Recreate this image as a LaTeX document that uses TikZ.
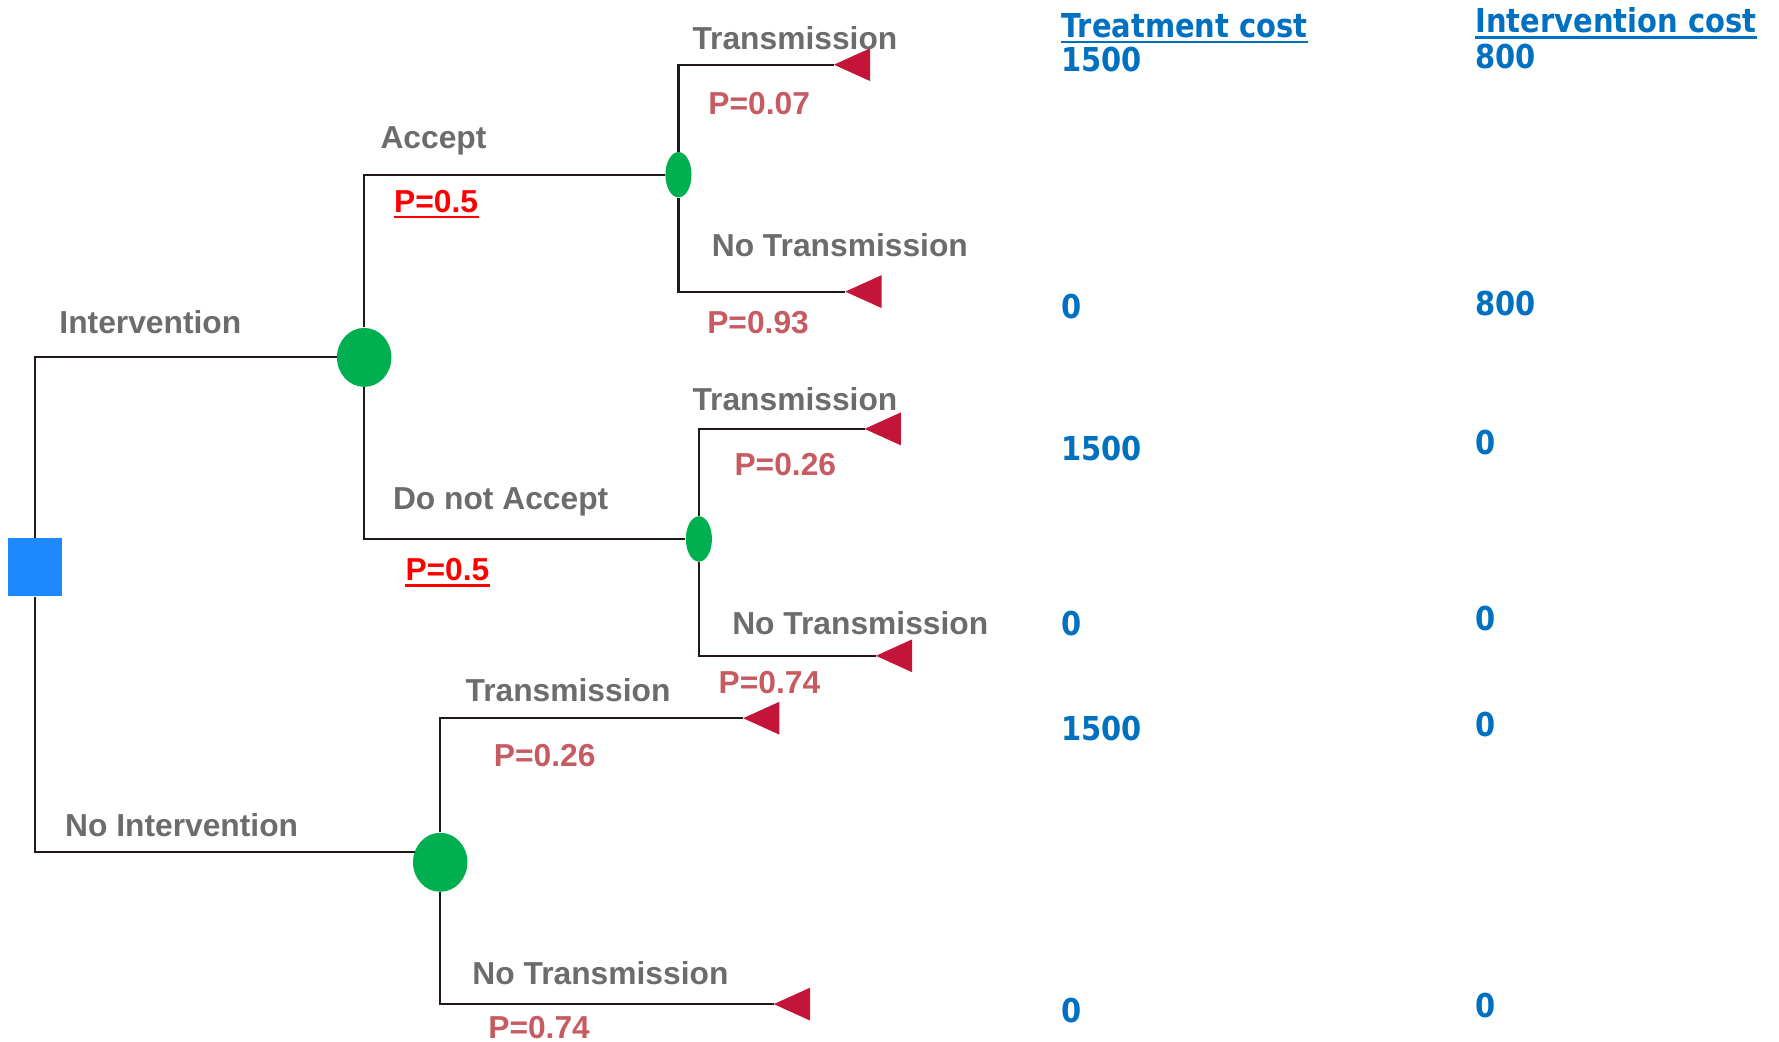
\documentclass[tikz,border=0pt]{standalone}
\usepackage{fontspec}
\setmainfont{Liberation Sans}
\newfontfamily\costfont{DejaVu Sans}[FakeStretch=0.88]
\usetikzlibrary{shapes.geometric}

\definecolor{labgray}{RGB}{108,108,108}
\definecolor{probred}{RGB}{198,92,98}
\definecolor{brightred}{RGB}{255,0,0}
\definecolor{costblue}{RGB}{0,112,192}
\definecolor{chancegreen}{RGB}{0,176,80}
\definecolor{endred}{RGB}{196,20,56}
\definecolor{decblue}{RGB}{30,136,255}
\definecolor{branchcol}{RGB}{35,24,21}

\tikzset{
  branch/.style={draw=branchcol, line width=0.9pt},
  decision/.style={rectangle, fill=decblue, inner sep=0pt, minimum width=24pt, minimum height=25.5pt},
  chance/.style={ellipse, fill=chancegreen, inner sep=0pt},
  bigchance/.style={chance, minimum width=24pt, minimum height=26pt},
  smallchance/.style={chance, minimum width=11.5pt, minimum height=20pt},
  terminal/.style={fill=endred},
  lbl/.style={anchor=base west, inner sep=0pt, text=labgray, font=\fontsize{14}{16}\selectfont\bfseries},
  prob/.style={anchor=base west, inner sep=0pt, text=probred, font=\fontsize{14}{16}\selectfont\bfseries},
  keyprob/.style={anchor=base west, inner sep=0pt, text=brightred, font=\fontsize{14}{16}\selectfont\bfseries},
  cost/.style={anchor=base west, inner sep=0pt, text=costblue, font=\fontsize{14.5}{17}\costfont\bfseries},
  uline/.style={line width=1pt},
}

\begin{document}
\begin{tikzpicture}[x=0.5pt, y=-0.5pt]
\useasboundingbox (0,0) rectangle (1568,918);

% decision and chance nodes
\node[decision] (dec) at (31,500) {};
\node[bigchance] (c1) at (321,315) {};
\node[smallchance] (c2) at (598,154) {};
\node[smallchance] (c3) at (616,475) {};
\node[bigchance] (c4) at (388,760) {};

% terminal tips
\coordinate (e1) at (735,57);
\coordinate (e2) at (745,257);
\coordinate (e3) at (762,378);
\coordinate (e4) at (772,578);
\coordinate (e5) at (655,633);
\coordinate (e6) at (682,885);

% branches
\draw[branch] (dec.north) |- (c1.west);
\draw[branch] (dec.south) |- ([shift={(2,-9)}]c4.west);
\draw[branch] (c1.north) |- (c2.west);
\draw[branch] (c1.south) |- (c3.west);
\draw[branch] (c2.north) |- (e1);
\draw[branch] (c2.south) |- (e2);
\draw[branch] (c3.north) |- (e3);
\draw[branch] (c3.south) |- (e4);
\draw[branch] (c4.north) |- (e5);
\draw[branch] (c4.south) |- (e6);

% terminal triangles
\foreach \e in {e1,e2,e3,e4,e5,e6}
  \fill[terminal] (\e) -- ++(32,-14.5) -- ++(0,29) -- cycle;

% branch labels
\node[lbl] (lInt) at (52,294) {Intervention};
\node[lbl] (lNoInt) at (57,737) {No Intervention};
\node[lbl] (lAcc) at (335,131) {Accept};
\node[lbl] (lDna) at (346,449) {Do not Accept};
\node[lbl] (lT1) at (610,44) {Transmission};
\node[lbl] (lN1) at (627,226) {No Transmission};
\node[lbl] (lT2) at (610,362) {Transmission};
\node[lbl] (lN2) at (645,559) {No Transmission};
\node[lbl] (lT3) at (410,618) {Transmission};
\node[lbl] (lN3) at (416,868) {No Transmission};

% probabilities
\node[keyprob] (pA) at (347,187) {P=0.5};
\node[keyprob] (pD) at (357,512) {P=0.5};
\draw[brightred, uline] ([yshift=-2pt]pA.base west) -- ([yshift=-2pt]pA.base east);
\draw[brightred, uline] ([yshift=-2pt]pD.base west) -- ([yshift=-2pt]pD.base east);
\node[prob] (p1) at (624,101) {P=0.07};
\node[prob] (p2) at (623,294) {P=0.93};
\node[prob] (p3) at (647,419) {P=0.26};
\node[prob] (p4) at (633,611) {P=0.74};
\node[prob] (p5) at (435,676) {P=0.26};
\node[prob] (p6) at (430,915) {P=0.74};

% cost columns
\node[cost] (hT) at (935,33) {Treatment cost};
\node[cost] (hI) at (1300,29) {Intervention cost};
\draw[costblue, uline] ([yshift=-2pt]hT.base west) -- ([yshift=-2pt]hT.base east);
\draw[costblue, uline] ([yshift=-2pt]hI.base west) -- ([yshift=-2pt]hI.base east);

\node[cost] (t1) at (935,63) {1500};
\node[cost] (i1) at (1300,60) {800};
\node[cost] (t2) at (935,281) {0};
\node[cost] (i2) at (1300,278) {800};
\node[cost] (t3) at (935,406) {1500};
\node[cost] (i3) at (1300,401) {0};
\node[cost] (t4) at (935,560) {0};
\node[cost] (i4) at (1300,556) {0};
\node[cost] (t5) at (935,653) {1500};
\node[cost] (i5) at (1300,649) {0};
\node[cost] (t6) at (935,901) {0};
\node[cost] (i6) at (1300,897) {0};
\end{tikzpicture}
\end{document}
